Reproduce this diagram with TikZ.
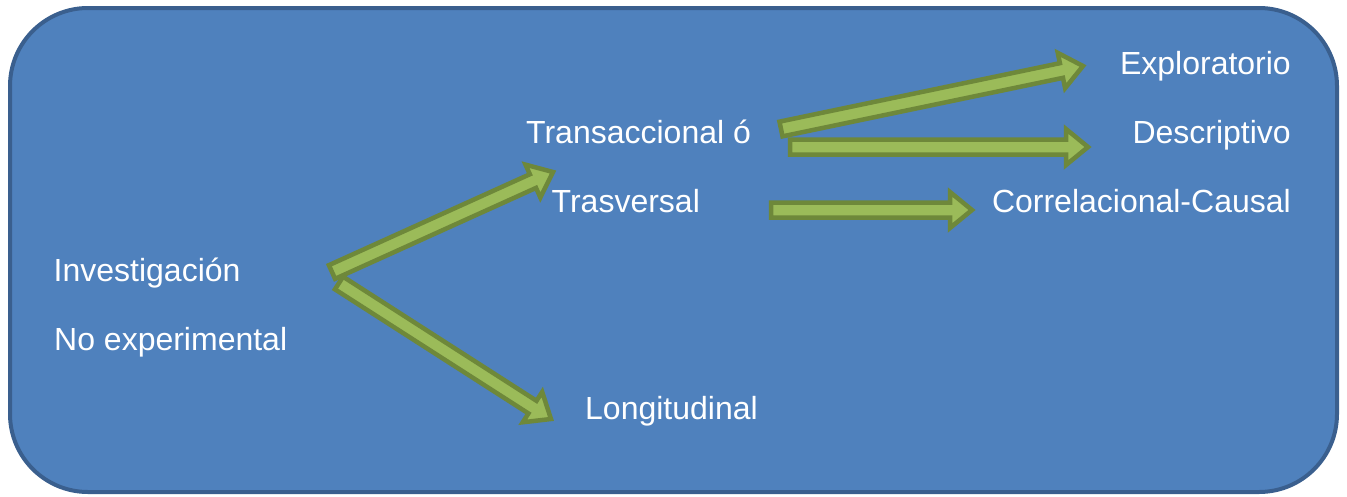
\documentclass[tikz,border=0pt]{standalone}
\usepackage{fontspec}
\setmainfont{Liberation Sans}
\usetikzlibrary{calc}

\definecolor{boxfill}{HTML}{4F81BD}
\definecolor{boxline}{HTML}{3A5F8E}
\definecolor{arrowfill}{HTML}{9BBB59}
\definecolor{arrowline}{HTML}{6E883A}

\tikzset{
  label/.style={text=white, inner sep=0pt, font=\fontsize{32}{38}\selectfont},
  blockarrow/.style={fill=arrowfill, draw=arrowline, line width=4.5pt, line join=miter},
}

% block arrow from #1 to #2
\newcommand\blockarrow[2]{%
  \draw[blockarrow] let \p1=($(#2)-(#1)$), \n1={veclen(\x1,\y1)}, \n2={atan2(\y1,\x1)} in
    [shift={(#1)}, rotate=\n2]
    (0pt,-7.5pt) -- (\n1-22pt,-7.5pt) -- (\n1-22pt,-18pt) -- (\n1+0pt,0pt)
    -- (\n1-22pt,18pt) -- (\n1-22pt,7.5pt) -- (0pt,7.5pt) -- cycle;}

\begin{document}
\begin{tikzpicture}[x=1pt, y=-1pt]
    \useasboundingbox (0,0) rectangle (1347,496);

    % the panel
    \draw[fill=boxfill, draw=boxline, line width=4pt, rounded corners=78pt] (10,8) rectangle (1337,492);

    % texts
    \node[label, anchor=base west] (inv) at (53.5,281) {Investigación};
    \node[label, anchor=base west] (noexp) at (54,350) {No experimental};
    \node[label, anchor=base west] (trans) at (526,143) {Transaccional ó};
    \node[label, anchor=base west] (trasv) at (551.5,212) {Trasversal};
    \node[label, anchor=base west] (longi) at (585,419) {Longitudinal};
    \node[label, anchor=base east] (explo) at (1291,74) {Exploratorio};
    \node[label, anchor=base east] (descr) at (1291,143) {Descriptivo};
    \node[label, anchor=base east] (corre) at (1291,212) {Correlacional-Causal};

    % arrow ends
    \coordinate (up0) at (332,272);
    \coordinate (up1) at (553,172);
    \coordinate (dn0) at (339,283);
    \coordinate (dn1) at (551,419);
    \coordinate (ex0) at (781,129);
    \coordinate (ex1) at (1083,66);
    \coordinate (de0) at (790,147);
    \coordinate (de1) at (1088,147);
    \coordinate (co0) at (771,210);
    \coordinate (co1) at (972,210);

    \blockarrow{up0}{up1}
    \blockarrow{dn0}{dn1}
    \blockarrow{ex0}{ex1}
    \blockarrow{de0}{de1}
    \blockarrow{co0}{co1}

\end{tikzpicture}
\end{document}
